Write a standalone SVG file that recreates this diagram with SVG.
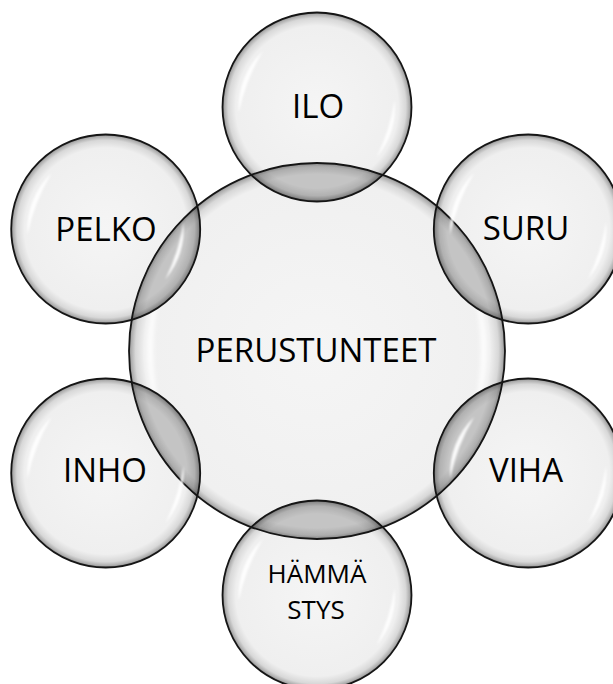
<svg xmlns="http://www.w3.org/2000/svg" xmlns:xlink="http://www.w3.org/1999/xlink" width="613" height="684" viewBox="0 0 613 684">
<style>
.lbl{font-family:"Open Sans","Noto Sans","Liberation Sans",sans-serif;font-size:33px;fill:#000;text-anchor:middle}
.small{font-size:26px}
.sat{fill:url(#gSat)}
.cen{fill:url(#gCen)}
.ol{fill:none;stroke:#151515;stroke-width:1.8}
.lens{fill:#000;fill-opacity:0.18}
.rim{fill:url(#gRim)}
.hl{fill:#fff;fill-opacity:0.92;filter:url(#soft)}
.hlc{fill:#fff;fill-opacity:0.85;filter:url(#soft2)}
</style>
<defs>
<radialGradient id="gSat" cx="50%" cy="50%" r="50%">
<stop offset="0" stop-color="#f5f5f5"/>
<stop offset="0.86" stop-color="#efefef"/>
<stop offset="0.94" stop-color="#d8d8d8"/>
<stop offset="0.98" stop-color="#acacac"/>
<stop offset="1" stop-color="#7e7e7e"/>
</radialGradient>
<radialGradient id="gCen" cx="50%" cy="50%" r="50%">
<stop offset="0" stop-color="#f5f5f5"/>
<stop offset="0.92" stop-color="#f0f0f0"/>
<stop offset="0.965" stop-color="#d8d8d8"/>
<stop offset="0.99" stop-color="#ababab"/>
<stop offset="1" stop-color="#808080"/>
</radialGradient>
<radialGradient id="gRim" cx="50%" cy="50%" r="50%">
<stop offset="0" stop-color="#000" stop-opacity="0"/>
<stop offset="0.94" stop-color="#000" stop-opacity="0"/>
<stop offset="0.98" stop-color="#000" stop-opacity="0.12"/>
<stop offset="1" stop-color="#000" stop-opacity="0.32"/>
</radialGradient>
<filter id="soft" x="-50%" y="-50%" width="200%" height="200%"><feGaussianBlur stdDeviation="1.1"/></filter>
<filter id="soft2" x="-50%" y="-50%" width="200%" height="200%"><feGaussianBlur stdDeviation="2"/></filter>
<path id="hlA" d="M-78.2 5.4 A78 78 0 0 1 -54.2 -56.1 A200 200 0 0 0 -78.2 5.4 Z"/>
<path id="hlB" d="M77.7 -6.8 A78 78 0 0 1 59.75 50.14 A200 200 0 0 0 77.7 -6.8 Z"/>
<path id="hlCL" d="M-154.07 71.85 A170 170 0 0 1 -154.07 -71.85 A270 270 0 0 0 -154.07 71.85 Z"/>
<path id="hlCR" d="M154.07 -71.85 A170 170 0 0 1 154.07 71.85 A270 270 0 0 0 154.07 -71.85 Z"/>
<circle id="cenC" cx="317" cy="351" r="188"/>
<clipPath id="clipCen"><circle cx="317" cy="351" r="188"/></clipPath>
<clipPath id="cIlo"><circle cx="317" cy="107" r="94.5"/></clipPath>
<clipPath id="cSuru"><circle cx="528.3" cy="229" r="94.5"/></clipPath>
<clipPath id="cViha"><circle cx="528.3" cy="473" r="94.5"/></clipPath>
<clipPath id="cHam"><circle cx="317" cy="595" r="94.5"/></clipPath>
<clipPath id="cInho"><circle cx="105.7" cy="473" r="94.5"/></clipPath>
<clipPath id="cPelko"><circle cx="105.7" cy="229" r="94.5"/></clipPath>
</defs>
<rect width="613" height="684" fill="#fff"/>

<g id="perustunteet">
<circle class="cen" cx="317" cy="351" r="188"/>
<use href="#hlCL" x="317" y="351" class="hlc"/>
<use href="#hlCR" x="317" y="351" class="hlc"/>
<circle class="ol" cx="317" cy="351" r="188"/>
<text class="lbl" x="316" y="362">PERUSTUNTEET</text>
</g>

<g id="ilo">
<circle class="sat" cx="317" cy="107" r="94.5"/>
<circle class="lens" cx="317" cy="107" r="94.5" clip-path="url(#clipCen)"/>
<use href="#cenC" class="rim" clip-path="url(#cIlo)"/>
<use href="#cenC" class="ol" clip-path="url(#cIlo)"/>
<use href="#hlA" x="317" y="107" class="hl"/>
<use href="#hlB" x="317" y="107" class="hl"/>
<circle class="ol" cx="317" cy="107" r="94.5"/>
<text class="lbl" x="318" y="118">ILO</text>
</g>

<g id="suru">
<circle class="sat" cx="528.3" cy="229" r="94.5"/>
<circle class="lens" cx="528.3" cy="229" r="94.5" clip-path="url(#clipCen)"/>
<use href="#cenC" class="rim" clip-path="url(#cSuru)"/>
<use href="#cenC" class="ol" clip-path="url(#cSuru)"/>
<use href="#hlA" x="528.3" y="229" class="hl"/>
<use href="#hlB" x="528.3" y="229" class="hl"/>
<circle class="ol" cx="528.3" cy="229" r="94.5"/>
<text class="lbl" x="526" y="240">SURU</text>
</g>

<g id="viha">
<circle class="sat" cx="528.3" cy="473" r="94.5"/>
<circle class="lens" cx="528.3" cy="473" r="94.5" clip-path="url(#clipCen)"/>
<use href="#cenC" class="rim" clip-path="url(#cViha)"/>
<use href="#cenC" class="ol" clip-path="url(#cViha)"/>
<use href="#hlA" x="528.3" y="473" class="hl"/>
<use href="#hlB" x="528.3" y="473" class="hl"/>
<circle class="ol" cx="528.3" cy="473" r="94.5"/>
<text class="lbl" x="526" y="482">VIHA</text>
</g>

<g id="hammastys">
<circle class="sat" cx="317" cy="595" r="94.5"/>
<circle class="lens" cx="317" cy="595" r="94.5" clip-path="url(#clipCen)"/>
<use href="#cenC" class="rim" clip-path="url(#cHam)"/>
<use href="#cenC" class="ol" clip-path="url(#cHam)"/>
<use href="#hlA" x="317" y="595" class="hl"/>
<use href="#hlB" x="317" y="595" class="hl"/>
<circle class="ol" cx="317" cy="595" r="94.5"/>
<text class="lbl small" x="317" y="583">HÄMMÄ</text>
<text class="lbl small" x="316" y="619">STYS</text>
</g>

<g id="inho">
<circle class="sat" cx="105.7" cy="473" r="94.5"/>
<circle class="lens" cx="105.7" cy="473" r="94.5" clip-path="url(#clipCen)"/>
<use href="#cenC" class="rim" clip-path="url(#cInho)"/>
<use href="#cenC" class="ol" clip-path="url(#cInho)"/>
<use href="#hlA" x="105.7" y="473" class="hl"/>
<use href="#hlB" x="105.7" y="473" class="hl"/>
<circle class="ol" cx="105.7" cy="473" r="94.5"/>
<text class="lbl" x="105" y="482">INHO</text>
</g>

<g id="pelko">
<circle class="sat" cx="105.7" cy="229" r="94.5"/>
<circle class="lens" cx="105.7" cy="229" r="94.5" clip-path="url(#clipCen)"/>
<use href="#cenC" class="rim" clip-path="url(#cPelko)"/>
<use href="#cenC" class="ol" clip-path="url(#cPelko)"/>
<use href="#hlA" x="105.7" y="229" class="hl"/>
<use href="#hlB" x="105.7" y="229" class="hl"/>
<circle class="ol" cx="105.7" cy="229" r="94.5"/>
<text class="lbl" x="106" y="241">PELKO</text>
</g>

<g id="connectors"/>
</svg>
